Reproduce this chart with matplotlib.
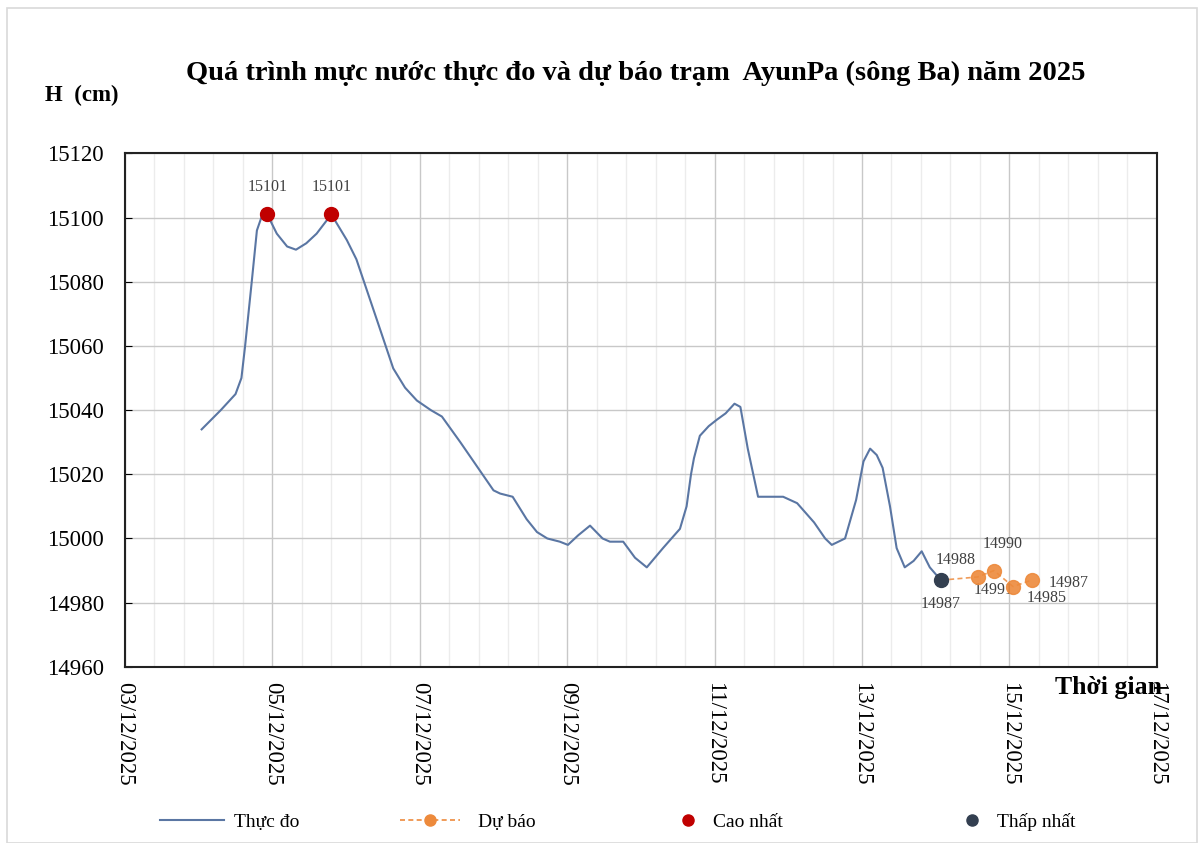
#!/usr/bin/env python3
"""AyunPa (song Ba) water level: observed vs forecast, Dec 2025 -> out.png."""
import numpy as np
import pandas as pd
import matplotlib
matplotlib.use("Agg")
import matplotlib.pyplot as plt
import matplotlib.dates as mdates
from matplotlib.lines import Line2D

plt.rcParams["font.family"] = ["Liberation Serif", "DejaVu Serif"]

# observed level, time given as fractional day of December 2025
OBS_DAY = [4.04, 4.30, 4.50, 4.58, 4.63, 4.72, 4.79, 4.85, 4.93, 5.06, 5.20, 5.32, 5.46, 5.60,
           5.80, 6.01, 6.14, 6.42, 6.64, 6.80, 6.96, 7.15, 7.30, 7.55, 7.82, 8.00, 8.09, 8.26,
           8.45, 8.59, 8.73, 8.90, 9.01, 9.15, 9.31, 9.48, 9.58, 9.76, 9.92, 10.08, 10.30,
           10.53, 10.62, 10.68, 10.72, 10.80, 10.92, 11.03, 11.15, 11.27, 11.35, 11.45, 11.59,
           11.75, 11.93, 12.12, 12.35, 12.50, 12.59, 12.77, 12.92, 13.02, 13.11, 13.20, 13.28,
           13.38, 13.47, 13.58, 13.70, 13.81, 13.92, 14.07]
OBS_H = [15034, 15040, 15045, 15050, 15060, 15080, 15096, 15100, 15101, 15095, 15091, 15090,
         15092, 15095, 15101, 15093, 15087, 15068, 15053, 15047, 15043, 15040, 15038, 15030,
         15021, 15015, 15014, 15013, 15006, 15002, 15000, 14999, 14998, 15001, 15004, 15000,
         14999, 14999, 14994, 14991, 14997, 15003, 15010, 15020, 15025, 15032, 15035, 15037,
         15039, 15042, 15041, 15028, 15013, 15013, 15013, 15011, 15005, 15000, 14998, 15000,
         15012, 15024, 15028, 15026, 15022, 15010, 14997, 14991, 14993, 14996, 14991, 14987]

# forecast starts from the last observed value
FC_DAY = [14.07, 14.57, 14.79, 15.05, 15.30]
FC_H = [14987, 14988, 14990, 14985, 14987]

MAX_DAY = [4.93, 5.80]
MAX_H = [15101, 15101]
MIN_DAY = [14.07]
MIN_H = [14987]

C_OBS = "#5a76a3"
C_FC = "#ed8a3c"
C_MAX = "#c00000"
C_MIN = "#333f50"


def to_dt(days):
    return pd.Timestamp("2025-12-01") + pd.to_timedelta(np.asarray(days) - 1, unit="D")


fig = plt.figure(figsize=(12.04, 8.43), dpi=100)
fig.patches.append(plt.Rectangle((0.006, 0.0), 0.988, 0.99, transform=fig.transFigure,
                                 fill=False, edgecolor="#d9d9d9", lw=1.2))
ax = fig.add_axes([0.1038, 0.209, 0.857, 0.609])

ax.plot(to_dt(OBS_DAY), OBS_H, color=C_OBS, lw=1.5, zorder=3, solid_joinstyle="round")
ax.plot(to_dt(FC_DAY), FC_H, color=C_FC, lw=1.2, ls=(0, (3, 2)), zorder=3, alpha=0.85)
ax.plot(to_dt(FC_DAY[1:]), FC_H[1:], "o", color=C_FC, ms=10, alpha=0.9, zorder=4)
ax.plot(to_dt(MAX_DAY), MAX_H, "o", color=C_MAX, ms=10, zorder=5)
ax.plot(to_dt(MIN_DAY), MIN_H, "o", color=C_MIN, ms=10, zorder=5)

lab = dict(fontsize=11.5, color="#404040", textcoords="offset points", ha="center", va="center")
for d, h in zip(MAX_DAY, MAX_H):
    ax.annotate(str(h), (to_dt([d])[0], h), xytext=(0, 20), **lab)
ax.annotate(str(MIN_H[0]), (to_dt(MIN_DAY)[0], MIN_H[0]), xytext=(0, -17), **lab)
fc_off = [(-16, 12), (6, 19), (24, -8), (27, -2)]
for d, h, off in zip(FC_DAY[1:], FC_H[1:], fc_off):
    ax.annotate(str(h), (to_dt([d])[0], h), xytext=off, **lab)
ax.annotate("14991", (to_dt([FC_DAY[2]])[0], FC_H[2]), xytext=(0, -14), **lab)

ax.set_xlim(to_dt([3])[0], to_dt([17])[0])
ax.set_ylim(14960, 15120)
ax.yaxis.set_major_locator(plt.MultipleLocator(20))
ax.xaxis.set_major_locator(mdates.DayLocator(bymonthday=range(3, 18, 2)))
ax.xaxis.set_major_formatter(mdates.DateFormatter("%d/%m/%Y"))
ax.xaxis.set_minor_locator(plt.FixedLocator(mdates.date2num(to_dt(np.arange(3, 17.01, 0.4)))))
ax.grid(which="major", color="#c8c8c8", lw=1.0)
ax.grid(which="minor", axis="x", color="#ececec", lw=1.0)
ax.tick_params(axis="x", which="major", direction="in", length=0, labelsize=16.5, rotation=270, pad=11)
ax.tick_params(axis="x", which="minor", length=0)
ax.tick_params(axis="y", direction="in", length=5, labelsize=16.5, pad=15)
for lbl in ax.get_xticklabels():
    lbl.set_va("top")
for s in ax.spines.values():
    s.set_color("#222222")
    s.set_linewidth(1.5)

fig.text(0.528, 0.913, "Quá trình mực nước thực đo và dự báo trạm  AyunPa (sông Ba) năm 2025",
         ha="center", va="center", fontsize=20.5, fontweight="bold")
fig.text(0.037, 0.887, "H  (cm)", ha="left", va="center", fontsize=16.5, fontweight="bold")
fig.text(0.876, 0.184, "Thời gian", ha="left", va="center", fontsize=18.5, fontweight="bold")

# one legend per entry so each sits where the reference puts it
entries = [
    (Line2D([], [], color=C_OBS, lw=1.5), "Thực đo", 0.133, 3.3, 0.5),
    (Line2D([], [], color=C_FC, lw=1.2, ls=(0, (3, 2)), marker="o", ms=8), "Dự báo", 0.332, 3.1, 0.9),
    (Line2D([], [], color=C_MAX, lw=0, marker="o", ms=8), "Cao nhất", 0.563, 1.0, 0.8),
    (Line2D([], [], color=C_MIN, lw=0, marker="o", ms=8), "Thấp nhất", 0.799, 1.0, 0.8),
]
for h, txt, x0, hl, tp in entries:
    fig.legend([h], [txt], loc="center left", bbox_to_anchor=(x0, 0.025), frameon=False,
               fontsize=14, handlelength=hl, handletextpad=tp, borderpad=0, borderaxespad=0)

fig.savefig("out.png", dpi=100)
